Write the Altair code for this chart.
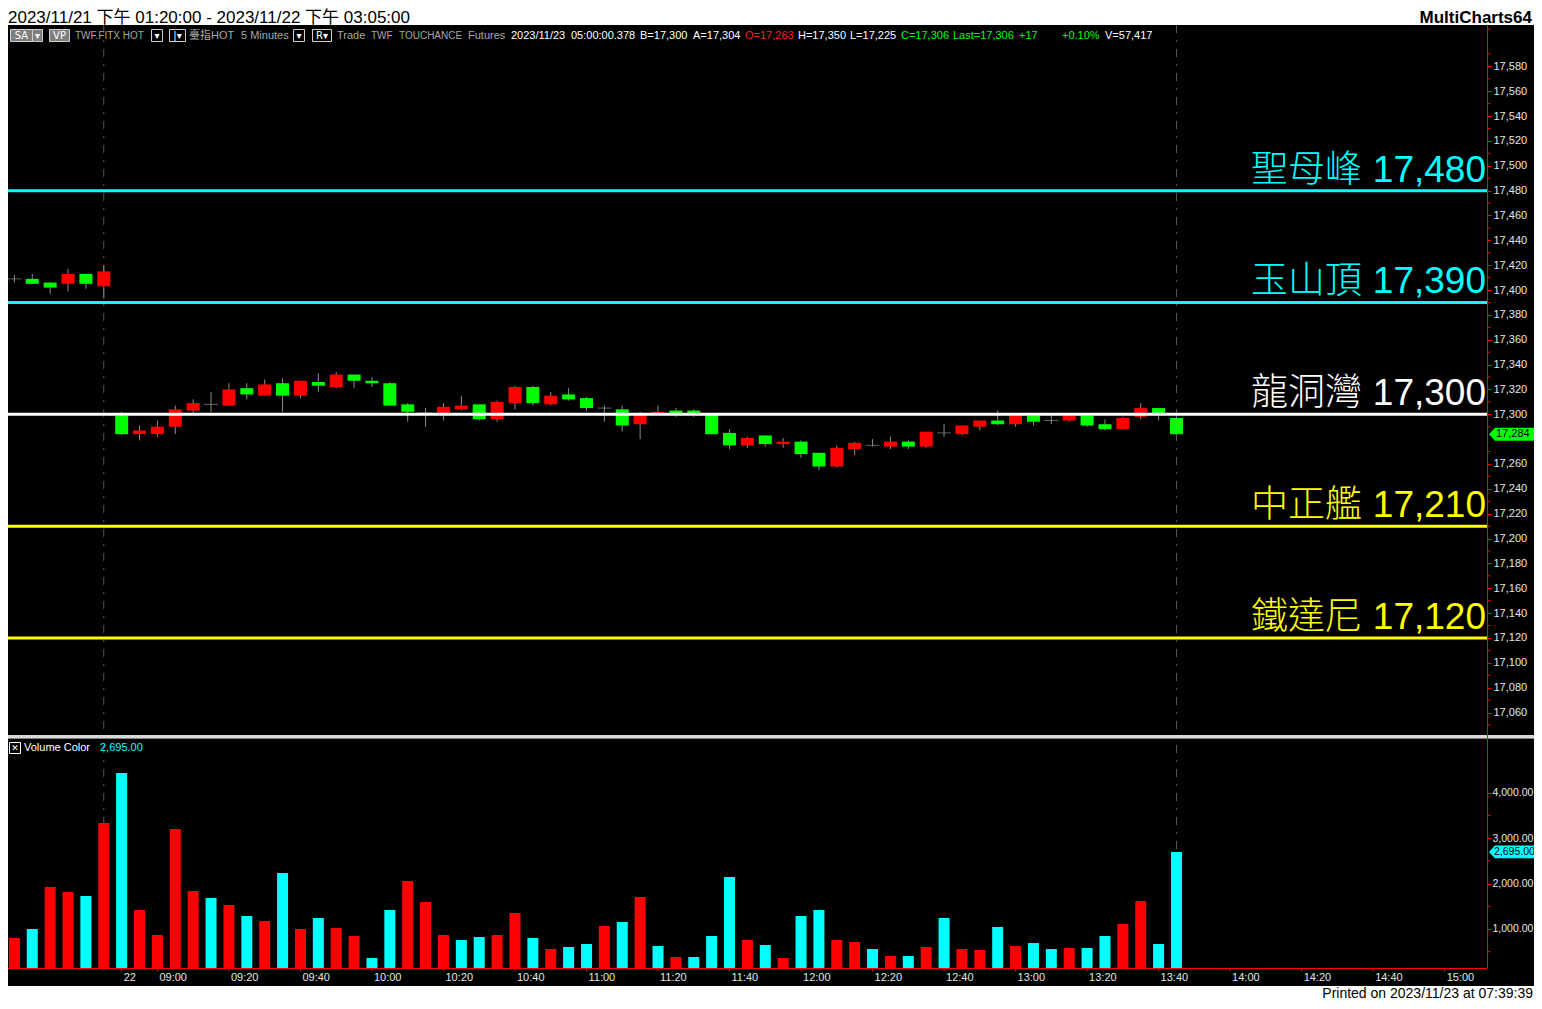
import altair as alt
import pandas as pd

# ---------------- data ----------------
opens  = [17409, 17409, 17406, 17405, 17413, 17403,
          17299, 17284, 17284, 17290, 17303, 17308, 17307, 17321, 17315, 17325,
          17315, 17326, 17322, 17332, 17327, 17325, 17308, 17301, 17300, 17304,
          17308, 17296, 17309, 17322, 17308, 17316, 17313, 17305, 17304, 17292,
          17300, 17303, 17303, 17300, 17285, 17275, 17283, 17276, 17278, 17269,
          17258, 17272, 17275, 17274, 17278, 17274, 17285, 17284, 17290, 17295,
          17292, 17299, 17295, 17295, 17299, 17292, 17288, 17298, 17305, 17297]
highs  = [17412, 17413, 17406, 17417, 17413, 17420,
          17302, 17291, 17295, 17307, 17312, 17318, 17325, 17325, 17328, 17329,
          17327, 17333, 17334, 17332, 17330, 17326, 17309, 17305, 17309, 17315,
          17308, 17311, 17323, 17323, 17318, 17321, 17314, 17307, 17307, 17302,
          17307, 17305, 17304, 17300, 17288, 17282, 17283, 17281, 17279, 17269,
          17275, 17278, 17280, 17282, 17279, 17286, 17292, 17291, 17295, 17303,
          17300, 17300, 17299, 17301, 17300, 17296, 17298, 17309, 17305, 17298]
lows   = [17406, 17405, 17397, 17399, 17401, 17393,
          17283, 17279, 17282, 17284, 17301, 17302, 17307, 17312, 17315, 17302,
          17313, 17318, 17321, 17321, 17322, 17307, 17294, 17290, 17295, 17303,
          17295, 17294, 17304, 17307, 17307, 17311, 17303, 17294, 17286, 17280,
          17300, 17298, 17298, 17284, 17272, 17273, 17274, 17273, 17265, 17255,
          17257, 17267, 17274, 17272, 17272, 17273, 17282, 17283, 17287, 17291,
          17290, 17291, 17292, 17294, 17290, 17287, 17288, 17296, 17295, 17284]
closes = [17409, 17405, 17402, 17413, 17405, 17415,
          17284, 17287, 17290, 17304, 17309, 17308, 17320, 17316, 17324, 17315,
          17327, 17323, 17332, 17327, 17325, 17307, 17302, 17301, 17306, 17307,
          17296, 17310, 17322, 17309, 17315, 17312, 17305, 17305, 17291, 17300,
          17302, 17300, 17300, 17284, 17275, 17281, 17276, 17278, 17268, 17258,
          17273, 17277, 17275, 17278, 17274, 17286, 17285, 17291, 17295, 17292,
          17299, 17294, 17295, 17299, 17291, 17288, 17297, 17305, 17301, 17284]
volumes = [802, 1000, 1924, 1814, 1726, 3333, 4433, 1418, 868, 3201, 1836, 1682,
           1528, 1286, 1176, 2232, 1000, 1242, 1022, 846, 362, 1418, 2056, 1594,
           868, 758, 824, 868, 1352, 802, 560, 604, 670, 1066, 1154, 1704, 626,
           384, 384, 846, 2144, 758, 648, 362, 1286, 1418, 758, 714, 560, 406,
           406, 604, 1242, 560, 538, 1044, 626, 692, 560, 582, 582, 846, 1110,
           1616, 670, 2695]
vol_colors = ['r', 'c', 'r', 'r', 'c', 'r', 'c', 'r', 'r', 'r', 'r', 'c', 'r', 'c',
              'r', 'c', 'r', 'c', 'r', 'r', 'c', 'c', 'r', 'r', 'r', 'c', 'c', 'r',
              'r', 'c', 'r', 'c', 'c', 'r', 'c', 'r', 'c', 'r', 'c', 'c', 'c', 'r',
              'c', 'r', 'c', 'c', 'r', 'r', 'c', 'r', 'c', 'r', 'c', 'r', 'r', 'c',
              'r', 'c', 'c', 'r', 'c', 'c', 'r', 'r', 'c', 'c']

tick_idx = [6, 8, 12, 16, 20, 24, 28, 32, 36, 40, 44, 48, 52, 56, 60, 64, 68, 72, 76, 80]
tick_labels = ['22', '09:00', '09:20', '09:40', '10:00', '10:20', '10:40', '11:00',
               '11:20', '11:40', '12:00', '12:20', '12:40', '13:00', '13:20', '13:40',
               '14:00', '14:20', '14:40', '15:00']

level_names = ['聖母峰', '玉山頂', '龍洞灣', '中正艦', '鐵達尼']
level_prices = [17480, 17390, 17300, 17210, 17120]
level_colors = ['#00FFFF', '#00FFFF', '#FFFFFF', '#FFFF00', '#FFFF00']

session_breaks = [5, 65]
price_ticks = [v for v in range(17060, 17581, 20) if v != 17280]
price_minor = list(range(17050, 17611, 20))
vol_ticks = [1000, 2000, 3000, 4000]
vol_minor = [500, 1500, 2500, 3500]

title_text = '2023/11/21 下午 01:20:00 - 2023/11/22 下午 03:05:00'
brand_text = 'MultiCharts64'
footer_text = 'Printed on 2023/11/23 at 07:39:39'

GRAY, WHITE, RED, GREEN = '#A8A8A8', '#FFFFFF', '#FF2020', '#00FF00'
header_items = [
    (75, 'TWF.FITX HOT', GRAY, 10), (189, '臺指HOT', GRAY, 11), (241, '5 Minutes', GRAY, 11),
    (337, 'Trade', GRAY, 11), (371, 'TWF', GRAY, 10), (399, 'TOUCHANCE', GRAY, 10),
    (468, 'Futures', GRAY, 11), (511, '2023/11/23', WHITE, 11), (571, '05:00:00.378', WHITE, 11),
    (640, 'B=17,300', WHITE, 11), (693, 'A=17,304', WHITE, 11), (745, 'O=17,263', RED, 11),
    (798, 'H=17,350', WHITE, 11), (850, 'L=17,225', WHITE, 11), (901, 'C=17,306', GREEN, 11),
    (953, 'Last=17,306', GREEN, 11), (1019, '+17', GREEN, 11), (1062, '+0.10%', GREEN, 11),
    (1105, 'V=57,417', WHITE, 11),
]
header_boxes = [
    (10, 32, '#7F7F7F', 'SA'), (32, 42, '#7F7F7F', '▾'), (49, 69, '#7F7F7F', 'VP'),
    (151, 162, '#000000', '▾'), (169, 185, '#000000', '|▾'),
    (293, 304, '#000000', '▾'), (312, 331, '#000000', 'R▾'),
]

# ---------------- layout ----------------
OFF = 8                      # page margin: svg coordinate = reference pixel - 8
def P(v):
    return v - OFF

VW, VH = 1479, 960            # plot view (axis line at ref x=1487, time axis at ref y=968)
TOTW, TOTH = 1526, 993
SANS = 'Liberation Sans, Arial, Noto Sans CJK TC'
CJK = 'Noto Sans CJK TC'
LBL = '#E6E6E6'

V_MIN, V_MAX = 141.7, 5159.3
x_scale = alt.Scale(domain=[-0.0778, 82.089], nice=False, zero=False)
p_scale = alt.Scale(domain=[17041.9, 17613.3], range=[727, 17], nice=False, zero=False)
v_scale = alt.Scale(domain=[V_MIN, V_MAX], range=[960, 732], nice=False, zero=False)

n = len(opens)
cdf = pd.DataFrame({'i': list(range(n)), 'open': opens, 'high': highs,
                    'low': lows, 'close': closes})
cdf['dir'] = ['up' if c > o else ('down' if c < o else 'flat') for o, c in zip(opens, closes)]
vdf = pd.DataFrame({'i': list(range(n)), 'vol': volumes, 'vc': vol_colors})
ldf = pd.DataFrame({'price': level_prices, 'color': level_colors, 'name': level_names,
                    'num': [f'{p:,}' for p in level_prices]})
sdf = pd.DataFrame({'i': session_breaks})
tdf = pd.DataFrame({'i': tick_idx, 'lab': tick_labels})
pmin = pd.DataFrame({'p': price_minor})
vmin = pd.DataFrame({'v': vol_minor})
last_p = pd.DataFrame({'close': [closes[-1]], 'lab': [f'{closes[-1]:,}']})
last_v = pd.DataFrame({'vol': [volumes[-1]], 'lab': [f'{volumes[-1]:,.2f}']})
one = pd.DataFrame({'k': [0]})

xq = alt.X('i:Q', scale=x_scale, axis=None)

layers = []

# white title / footer strips (background is black)
layers.append(alt.Chart(one).mark_rect(color='#FFFFFF').encode(
    x=alt.value(0), x2=alt.value(TOTW), y=alt.value(0), y2=alt.value(P(25))))
layers.append(alt.Chart(one).mark_rect(color='#FFFFFF').encode(
    x=alt.value(0), x2=alt.value(TOTW), y=alt.value(P(986)), y2=alt.value(TOTH)))

# session break dashed lines
layers.append(alt.Chart(sdf).mark_rule(color='#5A5A5A', strokeDash=[8, 7, 2, 7]).encode(
    x=xq, y=alt.value(P(25)), y2=alt.value(VH)))

# candles
layers.append(alt.Chart(cdf).mark_rule(color='#8C8C8C', strokeWidth=1).encode(
    x=xq, y=alt.Y('low:Q', scale=p_scale, axis=None), y2='high:Q'))
layers.append(alt.Chart(cdf).transform_filter("datum.dir != 'flat'").mark_bar(size=13).encode(
    x=xq, y=alt.Y('open:Q', scale=p_scale, axis=None), y2='close:Q',
    color=alt.Color('dir:N', scale=alt.Scale(domain=['up', 'down'], range=['#FF0000', '#00FF00']),
                    legend=None)))
layers.append(alt.Chart(cdf).transform_filter("datum.dir == 'flat'").mark_tick(
    orient='horizontal', size=14, thickness=1, color='#8C8C8C').encode(
    x=xq, y=alt.Y('open:Q', scale=p_scale, axis=None)))

# level lines with price axis
layers.append(alt.Chart(ldf).mark_rule(strokeWidth=3).encode(
    x=alt.value(0), x2=alt.value(VW),
    y=alt.Y('price:Q', scale=p_scale,
            axis=alt.Axis(orient='right', values=price_ticks, format=',d', domain=False,
                          tickColor='#FF0000', tickSize=4, labelColor=LBL, labelFont=SANS,
                          labelFontSize=11, labelPadding=2, grid=False, title=None,
                          labelOverlap=False, labelFlush=False)),
    color=alt.Color('color:N', scale=None)))
layers.append(alt.Chart(ldf).mark_text(align='right', baseline='alphabetic', dy=-9, fontSize=37,
                                        font=SANS).encode(
    x=alt.value(VW - 1), y=alt.Y('price:Q', scale=p_scale, axis=None), text='num:N',
    color=alt.Color('color:N', scale=None)))
layers.append(alt.Chart(ldf).mark_text(align='right', baseline='alphabetic', dy=-9, dx=-124,
                                        fontSize=37, font=CJK, fontWeight=300).encode(
    x=alt.value(VW - 1), y=alt.Y('price:Q', scale=p_scale, axis=None), text='name:N',
    color=alt.Color('color:N', scale=None)))

# volume bars with volume axis (bars rise from the bottom of the volume scale)
layers.append(alt.Chart(vdf).mark_bar(size=11).encode(
    x=xq,
    y=alt.Y('vol:Q', scale=v_scale,
            axis=alt.Axis(orient='right', values=vol_ticks, format=',.2f', domain=False,
                          tickColor='#FF0000', tickSize=4, labelColor=LBL, labelFont=SANS,
                          labelFontSize=10.5, labelPadding=1, grid=False, title=None,
                          labelOverlap=False, labelFlush=False)),
    y2=alt.Y2(datum=V_MIN),
    color=alt.Color('vc:N', scale=alt.Scale(domain=['r', 'c'], range=['#FF0000', '#00FFFF']),
                    legend=None)))

# time axis: line, ticks, labels
layers.append(alt.Chart(one).mark_rule(color='#FF0000').encode(
    x=alt.value(0), x2=alt.value(VW), y=alt.value(VH + 0.5)))
layers.append(alt.Chart(tdf).mark_rule(color='#FF0000').encode(
    x=xq, y=alt.value(VH), y2=alt.value(VH + 3.5)))
layers.append(alt.Chart(tdf).mark_text(align='left', baseline='top', dx=2, fontSize=11,
                                       font=SANS, color=LBL).encode(
    x=xq, y=alt.value(VH + 4), text='lab:N'))

# panel separator
layers.append(alt.Chart(one).mark_rect(color='#D8D8D8').encode(
    x=alt.value(0), x2=alt.value(TOTW), y=alt.value(P(735)), y2=alt.value(P(738))))
layers.append(alt.Chart(one).mark_rule(color='#808080').encode(
    x=alt.value(0), x2=alt.value(TOTW), y=alt.value(P(738.5))))

# right axis line and minor ticks
layers.append(alt.Chart(one).mark_rule(color='#FF0000').encode(
    x=alt.value(VW + 0.5), y=alt.value(P(25)), y2=alt.value(VH)))
layers.append(alt.Chart(pmin).mark_rule(color='#FF0000').encode(
    x=alt.value(VW + 0.5), x2=alt.value(VW + 3.5), y=alt.Y('p:Q', scale=p_scale, axis=None)))
layers.append(alt.Chart(vmin).mark_rule(color='#FF0000').encode(
    x=alt.value(VW + 0.5), x2=alt.value(VW + 3.5), y=alt.Y('v:Q', scale=v_scale, axis=None)))

# last-value markers
PENT = 'M-1,0L-0.77,-0.25L1,-0.25L1,0.25L-0.77,0.25Z'
layers.append(alt.Chart(last_p).mark_point(shape=PENT, size=2704, filled=True, opacity=1,
                                           color='#00FF00', strokeWidth=0).encode(
    x=alt.value(P(1515)), y=alt.Y('close:Q', scale=p_scale, axis=None)))
layers.append(alt.Chart(last_p).mark_text(align='left', baseline='middle', fontSize=11,
                                          font=SANS, color='#000000').encode(
    x=alt.value(P(1496)), y=alt.Y('close:Q', scale=p_scale, axis=None), text='lab:N'))
layers.append(alt.Chart(last_v).mark_point(shape=PENT, size=2601, filled=True, opacity=1,
                                           color='#00FFFF', strokeWidth=0).encode(
    x=alt.value(P(1514.5)), y=alt.Y('vol:Q', scale=v_scale, axis=None)))
layers.append(alt.Chart(last_v).mark_text(align='left', baseline='middle', fontSize=10.5,
                                          font=SANS, color='#000000').encode(
    x=alt.value(P(1494)), y=alt.Y('vol:Q', scale=v_scale, axis=None), text='lab:N'))

# volume legend
layers.append(alt.Chart(one).mark_rect(fill='#000000', stroke='#FFFFFF', strokeWidth=1).encode(
    x=alt.value(1.5), x2=alt.value(12.5), y=alt.value(P(742.5)), y2=alt.value(P(753.5))))
layers.append(alt.Chart(one).mark_text(text='✕', align='center', baseline='middle', fontSize=9,
                                       font='DejaVu Sans', color='#FFFFFF').encode(
    x=alt.value(7), y=alt.value(P(748))))
layers.append(alt.Chart(one).mark_text(text='Volume Color', align='left', baseline='middle',
                                       fontSize=11, font=SANS, color='#FFFFFF').encode(
    x=alt.value(P(24)), y=alt.value(P(748))))
layers.append(alt.Chart(last_v).mark_text(align='left', baseline='middle', fontSize=11,
                                          font=SANS, color='#00FFFF').encode(
    x=alt.value(P(100)), y=alt.value(P(748)), text='lab:N'))

# header row inside chart
for x0, x1, fill, lab in header_boxes:
    layers.append(alt.Chart(one).mark_rect(fill=fill, stroke='#D0D0D0', strokeWidth=1).encode(
        x=alt.value(P(x0) + 0.5), x2=alt.value(P(x1) + 0.5),
        y=alt.value(P(29.5)), y2=alt.value(P(41.5))))
    layers.append(alt.Chart(one).mark_text(text=lab, align='center', baseline='middle',
                                           fontSize=10, font='DejaVu Sans, ' + SANS,
                                           color='#FFFFFF').encode(
        x=alt.value(P((x0 + x1) / 2) + 0.5), y=alt.value(P(36))))
for x0, txt, col, fs in header_items:
    layers.append(alt.Chart(one).mark_text(text=txt, align='left', baseline='middle',
                                           fontSize=fs, font=SANS, color=col).encode(
        x=alt.value(P(x0)), y=alt.value(P(36))))

# title and footer
layers.append(alt.Chart(one).mark_text(text=title_text, align='left', baseline='alphabetic',
                                       fontSize=17, font=SANS, color='#000000').encode(
    x=alt.value(0), y=alt.value(15)))
layers.append(alt.Chart(one).mark_text(text=brand_text, align='right', baseline='alphabetic',
                                       fontSize=17, fontWeight='bold', font=SANS,
                                       color='#000000').encode(
    x=alt.value(TOTW - 2), y=alt.value(15)))
layers.append(alt.Chart(one).mark_text(text=footer_text, align='right', baseline='alphabetic',
                                       fontSize=14, font=SANS, color='#000000').encode(
    x=alt.value(TOTW - 1), y=alt.value(TOTH - 3)))

chart = alt.layer(*layers).resolve_scale(y='independent', color='independent').properties(
    width=VW, height=VH,
    autosize=alt.AutoSizeParams(type='none'),
    padding={'left': 0, 'top': 0, 'right': TOTW - VW, 'bottom': TOTH - VH},
    background='#000000',
).configure_view(strokeWidth=0)

chart.save('out.html', embed_options={'renderer': 'svg', 'actions': False})
